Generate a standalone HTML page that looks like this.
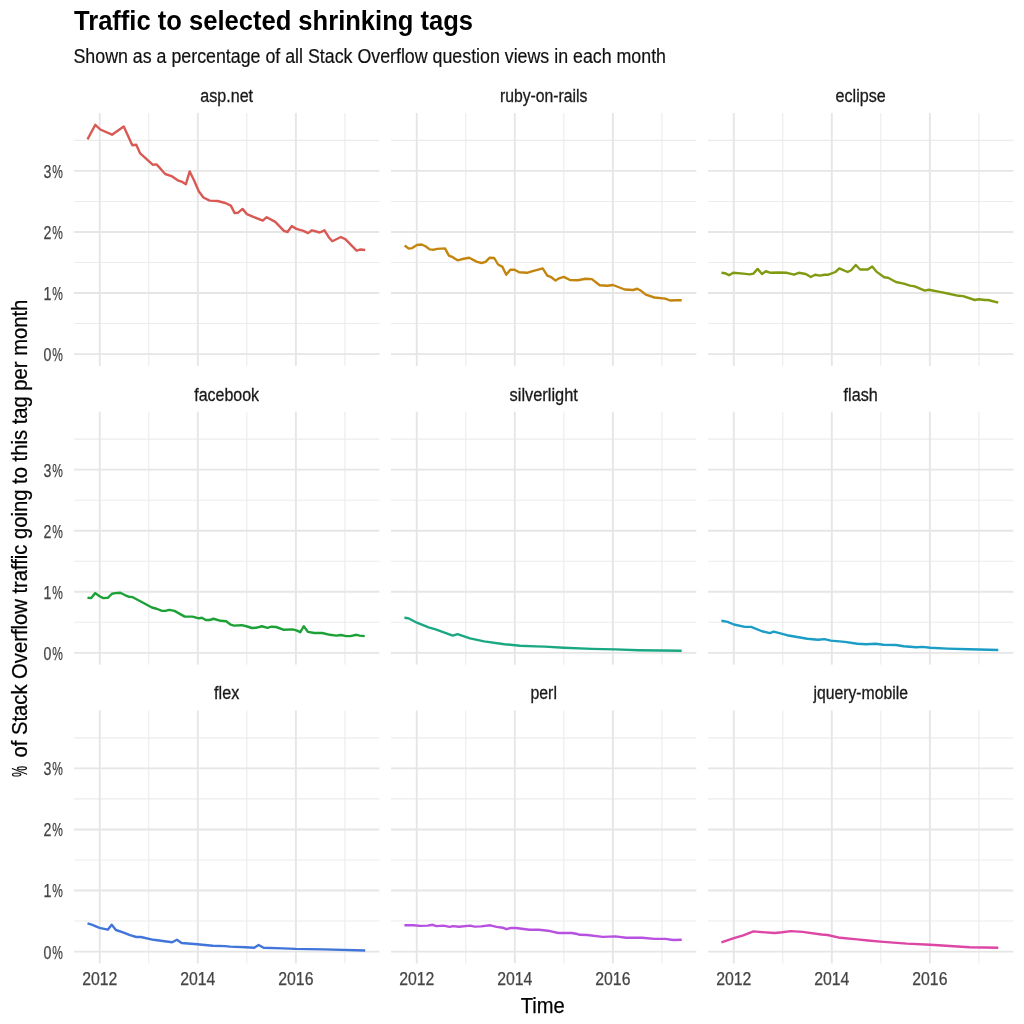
<!DOCTYPE html><html><head><meta charset="utf-8"><style>html,body{margin:0;padding:0;background:#fff;}svg{display:block;will-change:transform;}text{font-family:"Liberation Sans",sans-serif;}.tk{fill:#444;stroke:#444;stroke-width:0.25px;}.st{fill:#1a1a1a;stroke:#1a1a1a;stroke-width:0.3px;}</style></head><body>
<svg width="1024" height="1024" viewBox="0 0 1024 1024">
<rect width="1024" height="1024" fill="#fff"/>
<g><line x1="74.00" x2="379.40" y1="323.56" y2="323.56" stroke="#ececec" stroke-width="1.1"/><line x1="74.00" x2="379.40" y1="262.50" y2="262.50" stroke="#ececec" stroke-width="1.1"/><line x1="74.00" x2="379.40" y1="201.43" y2="201.43" stroke="#ececec" stroke-width="1.1"/><line x1="74.00" x2="379.40" y1="140.36" y2="140.36" stroke="#ececec" stroke-width="1.1"/><line x1="148.78" x2="148.78" y1="112.90" y2="365.90" stroke="#ececec" stroke-width="1.1"/><line x1="246.84" x2="246.84" y1="112.90" y2="365.90" stroke="#ececec" stroke-width="1.1"/><line x1="344.90" x2="344.90" y1="112.90" y2="365.90" stroke="#ececec" stroke-width="1.1"/><line x1="74.00" x2="379.40" y1="354.10" y2="354.10" stroke="#e6e6e6" stroke-width="1.9"/><line x1="74.00" x2="379.40" y1="293.03" y2="293.03" stroke="#e6e6e6" stroke-width="1.9"/><line x1="74.00" x2="379.40" y1="231.96" y2="231.96" stroke="#e6e6e6" stroke-width="1.9"/><line x1="74.00" x2="379.40" y1="170.89" y2="170.89" stroke="#e6e6e6" stroke-width="1.9"/><line x1="99.75" x2="99.75" y1="112.90" y2="365.90" stroke="#e6e6e6" stroke-width="1.9"/><line x1="197.81" x2="197.81" y1="112.90" y2="365.90" stroke="#e6e6e6" stroke-width="1.9"/><line x1="295.87" x2="295.87" y1="112.90" y2="365.90" stroke="#e6e6e6" stroke-width="1.9"/><line x1="391.00" x2="696.40" y1="323.56" y2="323.56" stroke="#ececec" stroke-width="1.1"/><line x1="391.00" x2="696.40" y1="262.50" y2="262.50" stroke="#ececec" stroke-width="1.1"/><line x1="391.00" x2="696.40" y1="201.43" y2="201.43" stroke="#ececec" stroke-width="1.1"/><line x1="391.00" x2="696.40" y1="140.36" y2="140.36" stroke="#ececec" stroke-width="1.1"/><line x1="465.78" x2="465.78" y1="112.90" y2="365.90" stroke="#ececec" stroke-width="1.1"/><line x1="563.84" x2="563.84" y1="112.90" y2="365.90" stroke="#ececec" stroke-width="1.1"/><line x1="661.90" x2="661.90" y1="112.90" y2="365.90" stroke="#ececec" stroke-width="1.1"/><line x1="391.00" x2="696.40" y1="354.10" y2="354.10" stroke="#e6e6e6" stroke-width="1.9"/><line x1="391.00" x2="696.40" y1="293.03" y2="293.03" stroke="#e6e6e6" stroke-width="1.9"/><line x1="391.00" x2="696.40" y1="231.96" y2="231.96" stroke="#e6e6e6" stroke-width="1.9"/><line x1="391.00" x2="696.40" y1="170.89" y2="170.89" stroke="#e6e6e6" stroke-width="1.9"/><line x1="416.75" x2="416.75" y1="112.90" y2="365.90" stroke="#e6e6e6" stroke-width="1.9"/><line x1="514.81" x2="514.81" y1="112.90" y2="365.90" stroke="#e6e6e6" stroke-width="1.9"/><line x1="612.87" x2="612.87" y1="112.90" y2="365.90" stroke="#e6e6e6" stroke-width="1.9"/><line x1="708.00" x2="1013.40" y1="323.56" y2="323.56" stroke="#ececec" stroke-width="1.1"/><line x1="708.00" x2="1013.40" y1="262.50" y2="262.50" stroke="#ececec" stroke-width="1.1"/><line x1="708.00" x2="1013.40" y1="201.43" y2="201.43" stroke="#ececec" stroke-width="1.1"/><line x1="708.00" x2="1013.40" y1="140.36" y2="140.36" stroke="#ececec" stroke-width="1.1"/><line x1="782.78" x2="782.78" y1="112.90" y2="365.90" stroke="#ececec" stroke-width="1.1"/><line x1="880.84" x2="880.84" y1="112.90" y2="365.90" stroke="#ececec" stroke-width="1.1"/><line x1="978.90" x2="978.90" y1="112.90" y2="365.90" stroke="#ececec" stroke-width="1.1"/><line x1="708.00" x2="1013.40" y1="354.10" y2="354.10" stroke="#e6e6e6" stroke-width="1.9"/><line x1="708.00" x2="1013.40" y1="293.03" y2="293.03" stroke="#e6e6e6" stroke-width="1.9"/><line x1="708.00" x2="1013.40" y1="231.96" y2="231.96" stroke="#e6e6e6" stroke-width="1.9"/><line x1="708.00" x2="1013.40" y1="170.89" y2="170.89" stroke="#e6e6e6" stroke-width="1.9"/><line x1="733.75" x2="733.75" y1="112.90" y2="365.90" stroke="#e6e6e6" stroke-width="1.9"/><line x1="831.81" x2="831.81" y1="112.90" y2="365.90" stroke="#e6e6e6" stroke-width="1.9"/><line x1="929.87" x2="929.87" y1="112.90" y2="365.90" stroke="#e6e6e6" stroke-width="1.9"/><line x1="74.00" x2="379.40" y1="622.32" y2="622.32" stroke="#ececec" stroke-width="1.1"/><line x1="74.00" x2="379.40" y1="561.25" y2="561.25" stroke="#ececec" stroke-width="1.1"/><line x1="74.00" x2="379.40" y1="500.18" y2="500.18" stroke="#ececec" stroke-width="1.1"/><line x1="74.00" x2="379.40" y1="439.11" y2="439.11" stroke="#ececec" stroke-width="1.1"/><line x1="148.78" x2="148.78" y1="411.65" y2="664.65" stroke="#ececec" stroke-width="1.1"/><line x1="246.84" x2="246.84" y1="411.65" y2="664.65" stroke="#ececec" stroke-width="1.1"/><line x1="344.90" x2="344.90" y1="411.65" y2="664.65" stroke="#ececec" stroke-width="1.1"/><line x1="74.00" x2="379.40" y1="652.85" y2="652.85" stroke="#e6e6e6" stroke-width="1.9"/><line x1="74.00" x2="379.40" y1="591.78" y2="591.78" stroke="#e6e6e6" stroke-width="1.9"/><line x1="74.00" x2="379.40" y1="530.71" y2="530.71" stroke="#e6e6e6" stroke-width="1.9"/><line x1="74.00" x2="379.40" y1="469.64" y2="469.64" stroke="#e6e6e6" stroke-width="1.9"/><line x1="99.75" x2="99.75" y1="411.65" y2="664.65" stroke="#e6e6e6" stroke-width="1.9"/><line x1="197.81" x2="197.81" y1="411.65" y2="664.65" stroke="#e6e6e6" stroke-width="1.9"/><line x1="295.87" x2="295.87" y1="411.65" y2="664.65" stroke="#e6e6e6" stroke-width="1.9"/><line x1="391.00" x2="696.40" y1="622.32" y2="622.32" stroke="#ececec" stroke-width="1.1"/><line x1="391.00" x2="696.40" y1="561.25" y2="561.25" stroke="#ececec" stroke-width="1.1"/><line x1="391.00" x2="696.40" y1="500.18" y2="500.18" stroke="#ececec" stroke-width="1.1"/><line x1="391.00" x2="696.40" y1="439.11" y2="439.11" stroke="#ececec" stroke-width="1.1"/><line x1="465.78" x2="465.78" y1="411.65" y2="664.65" stroke="#ececec" stroke-width="1.1"/><line x1="563.84" x2="563.84" y1="411.65" y2="664.65" stroke="#ececec" stroke-width="1.1"/><line x1="661.90" x2="661.90" y1="411.65" y2="664.65" stroke="#ececec" stroke-width="1.1"/><line x1="391.00" x2="696.40" y1="652.85" y2="652.85" stroke="#e6e6e6" stroke-width="1.9"/><line x1="391.00" x2="696.40" y1="591.78" y2="591.78" stroke="#e6e6e6" stroke-width="1.9"/><line x1="391.00" x2="696.40" y1="530.71" y2="530.71" stroke="#e6e6e6" stroke-width="1.9"/><line x1="391.00" x2="696.40" y1="469.64" y2="469.64" stroke="#e6e6e6" stroke-width="1.9"/><line x1="416.75" x2="416.75" y1="411.65" y2="664.65" stroke="#e6e6e6" stroke-width="1.9"/><line x1="514.81" x2="514.81" y1="411.65" y2="664.65" stroke="#e6e6e6" stroke-width="1.9"/><line x1="612.87" x2="612.87" y1="411.65" y2="664.65" stroke="#e6e6e6" stroke-width="1.9"/><line x1="708.00" x2="1013.40" y1="622.32" y2="622.32" stroke="#ececec" stroke-width="1.1"/><line x1="708.00" x2="1013.40" y1="561.25" y2="561.25" stroke="#ececec" stroke-width="1.1"/><line x1="708.00" x2="1013.40" y1="500.18" y2="500.18" stroke="#ececec" stroke-width="1.1"/><line x1="708.00" x2="1013.40" y1="439.11" y2="439.11" stroke="#ececec" stroke-width="1.1"/><line x1="782.78" x2="782.78" y1="411.65" y2="664.65" stroke="#ececec" stroke-width="1.1"/><line x1="880.84" x2="880.84" y1="411.65" y2="664.65" stroke="#ececec" stroke-width="1.1"/><line x1="978.90" x2="978.90" y1="411.65" y2="664.65" stroke="#ececec" stroke-width="1.1"/><line x1="708.00" x2="1013.40" y1="652.85" y2="652.85" stroke="#e6e6e6" stroke-width="1.9"/><line x1="708.00" x2="1013.40" y1="591.78" y2="591.78" stroke="#e6e6e6" stroke-width="1.9"/><line x1="708.00" x2="1013.40" y1="530.71" y2="530.71" stroke="#e6e6e6" stroke-width="1.9"/><line x1="708.00" x2="1013.40" y1="469.64" y2="469.64" stroke="#e6e6e6" stroke-width="1.9"/><line x1="733.75" x2="733.75" y1="411.65" y2="664.65" stroke="#e6e6e6" stroke-width="1.9"/><line x1="831.81" x2="831.81" y1="411.65" y2="664.65" stroke="#e6e6e6" stroke-width="1.9"/><line x1="929.87" x2="929.87" y1="411.65" y2="664.65" stroke="#e6e6e6" stroke-width="1.9"/><line x1="74.00" x2="379.40" y1="921.07" y2="921.07" stroke="#ececec" stroke-width="1.1"/><line x1="74.00" x2="379.40" y1="860.00" y2="860.00" stroke="#ececec" stroke-width="1.1"/><line x1="74.00" x2="379.40" y1="798.92" y2="798.92" stroke="#ececec" stroke-width="1.1"/><line x1="74.00" x2="379.40" y1="737.86" y2="737.86" stroke="#ececec" stroke-width="1.1"/><line x1="148.78" x2="148.78" y1="710.40" y2="963.40" stroke="#ececec" stroke-width="1.1"/><line x1="246.84" x2="246.84" y1="710.40" y2="963.40" stroke="#ececec" stroke-width="1.1"/><line x1="344.90" x2="344.90" y1="710.40" y2="963.40" stroke="#ececec" stroke-width="1.1"/><line x1="74.00" x2="379.40" y1="951.60" y2="951.60" stroke="#e6e6e6" stroke-width="1.9"/><line x1="74.00" x2="379.40" y1="890.53" y2="890.53" stroke="#e6e6e6" stroke-width="1.9"/><line x1="74.00" x2="379.40" y1="829.46" y2="829.46" stroke="#e6e6e6" stroke-width="1.9"/><line x1="74.00" x2="379.40" y1="768.39" y2="768.39" stroke="#e6e6e6" stroke-width="1.9"/><line x1="99.75" x2="99.75" y1="710.40" y2="963.40" stroke="#e6e6e6" stroke-width="1.9"/><line x1="197.81" x2="197.81" y1="710.40" y2="963.40" stroke="#e6e6e6" stroke-width="1.9"/><line x1="295.87" x2="295.87" y1="710.40" y2="963.40" stroke="#e6e6e6" stroke-width="1.9"/><line x1="391.00" x2="696.40" y1="921.07" y2="921.07" stroke="#ececec" stroke-width="1.1"/><line x1="391.00" x2="696.40" y1="860.00" y2="860.00" stroke="#ececec" stroke-width="1.1"/><line x1="391.00" x2="696.40" y1="798.92" y2="798.92" stroke="#ececec" stroke-width="1.1"/><line x1="391.00" x2="696.40" y1="737.86" y2="737.86" stroke="#ececec" stroke-width="1.1"/><line x1="465.78" x2="465.78" y1="710.40" y2="963.40" stroke="#ececec" stroke-width="1.1"/><line x1="563.84" x2="563.84" y1="710.40" y2="963.40" stroke="#ececec" stroke-width="1.1"/><line x1="661.90" x2="661.90" y1="710.40" y2="963.40" stroke="#ececec" stroke-width="1.1"/><line x1="391.00" x2="696.40" y1="951.60" y2="951.60" stroke="#e6e6e6" stroke-width="1.9"/><line x1="391.00" x2="696.40" y1="890.53" y2="890.53" stroke="#e6e6e6" stroke-width="1.9"/><line x1="391.00" x2="696.40" y1="829.46" y2="829.46" stroke="#e6e6e6" stroke-width="1.9"/><line x1="391.00" x2="696.40" y1="768.39" y2="768.39" stroke="#e6e6e6" stroke-width="1.9"/><line x1="416.75" x2="416.75" y1="710.40" y2="963.40" stroke="#e6e6e6" stroke-width="1.9"/><line x1="514.81" x2="514.81" y1="710.40" y2="963.40" stroke="#e6e6e6" stroke-width="1.9"/><line x1="612.87" x2="612.87" y1="710.40" y2="963.40" stroke="#e6e6e6" stroke-width="1.9"/><line x1="708.00" x2="1013.40" y1="921.07" y2="921.07" stroke="#ececec" stroke-width="1.1"/><line x1="708.00" x2="1013.40" y1="860.00" y2="860.00" stroke="#ececec" stroke-width="1.1"/><line x1="708.00" x2="1013.40" y1="798.92" y2="798.92" stroke="#ececec" stroke-width="1.1"/><line x1="708.00" x2="1013.40" y1="737.86" y2="737.86" stroke="#ececec" stroke-width="1.1"/><line x1="782.78" x2="782.78" y1="710.40" y2="963.40" stroke="#ececec" stroke-width="1.1"/><line x1="880.84" x2="880.84" y1="710.40" y2="963.40" stroke="#ececec" stroke-width="1.1"/><line x1="978.90" x2="978.90" y1="710.40" y2="963.40" stroke="#ececec" stroke-width="1.1"/><line x1="708.00" x2="1013.40" y1="951.60" y2="951.60" stroke="#e6e6e6" stroke-width="1.9"/><line x1="708.00" x2="1013.40" y1="890.53" y2="890.53" stroke="#e6e6e6" stroke-width="1.9"/><line x1="708.00" x2="1013.40" y1="829.46" y2="829.46" stroke="#e6e6e6" stroke-width="1.9"/><line x1="708.00" x2="1013.40" y1="768.39" y2="768.39" stroke="#e6e6e6" stroke-width="1.9"/><line x1="733.75" x2="733.75" y1="710.40" y2="963.40" stroke="#e6e6e6" stroke-width="1.9"/><line x1="831.81" x2="831.81" y1="710.40" y2="963.40" stroke="#e6e6e6" stroke-width="1.9"/><line x1="929.87" x2="929.87" y1="710.40" y2="963.40" stroke="#e6e6e6" stroke-width="1.9"/></g>
<polyline points="87.50,139.40 95.30,124.80 100.30,129.50 112.00,134.70 123.75,126.40 132.30,145.20 136.25,144.70 140.20,153.40 152.70,164.70 156.60,164.40 165.20,174.00 172.20,176.40 177.70,180.30 182.30,181.90 185.90,184.20 189.70,171.40 194.00,180.30 198.75,191.25 203.40,197.50 209.70,200.60 217.50,201.00 225.30,203.00 230.80,205.60 234.70,213.10 237.80,212.80 242.50,208.90 246.90,214.10 253.40,216.90 262.80,220.60 266.70,217.20 275.30,221.90 283.90,230.80 287.50,232.00 291.70,226.10 296.40,228.90 303.40,230.80 308.10,233.10 312.00,230.30 319.80,232.50 324.50,230.30 329.20,237.80 332.30,241.25 340.90,237.00 345.60,239.40 356.60,250.60 360.50,249.50 365.20,250.00" fill="none" stroke="#d95a55" stroke-width="2.4" stroke-linejoin="round" stroke-linecap="butt"/>
<polyline points="404.70,245.50 408.75,248.60 412.20,248.10 416.90,245.00 421.60,244.50 425.50,246.25 429.70,249.40 434.10,249.70 437.20,248.90 445.00,248.40 448.90,255.60 452.80,257.20 457.50,260.30 463.75,258.75 469.20,257.80 477.00,261.90 481.70,263.00 485.60,261.90 489.50,257.80 494.20,258.00 498.10,264.50 502.50,266.90 506.25,274.70 510.30,269.70 514.50,269.70 519.20,272.30 527.00,272.80 530.90,271.60 542.70,268.40 547.30,275.60 551.25,277.20 555.60,280.60 559.10,278.30 563.75,276.90 570.00,280.00 577.80,280.30 585.60,278.75 591.90,279.10 599.70,285.30 607.50,285.80 613.00,285.00 624.70,289.50 633.30,290.00 637.20,288.75 641.10,290.80 645.80,294.70 654.40,297.50 665.30,298.60 670.00,300.50 676.25,300.20 681.70,300.20" fill="none" stroke="#c4850f" stroke-width="2.4" stroke-linejoin="round" stroke-linecap="butt"/>
<polyline points="721.40,272.80 725.30,273.30 729.20,275.20 733.10,272.80 743.25,273.60 749.50,274.40 753.40,273.60 757.60,268.90 762.00,274.00 765.90,271.25 770.60,272.80 777.60,272.50 787.00,272.80 794.00,274.70 798.70,272.80 805.75,274.00 810.75,277.00 815.10,274.70 819.80,275.60 824.50,274.70 828.40,274.70 835.40,272.00 839.30,268.40 847.60,272.00 851.10,270.20 855.75,265.00 860.10,269.50 867.80,269.50 872.20,266.40 876.40,271.60 884.20,277.30 888.10,277.80 895.90,282.00 903.75,283.60 910.00,285.60 914.70,286.40 924.80,290.60 928.75,289.80 939.70,291.90 949.00,293.75 958.40,295.80 963.10,296.10 974.80,300.00 978.75,299.20 985.00,300.00 988.10,300.00 998.30,302.70" fill="none" stroke="#809a12" stroke-width="2.4" stroke-linejoin="round" stroke-linecap="butt"/>
<polyline points="87.50,597.70 91.25,598.10 95.30,593.10 99.50,596.25 103.40,598.10 107.80,597.80 112.00,593.75 115.20,593.10 120.30,592.80 125.30,595.30 129.20,596.90 132.30,597.00 141.70,602.00 151.90,607.50 156.60,608.75 162.00,610.90 165.20,610.90 169.40,609.80 174.50,610.90 184.70,616.60 192.50,616.60 198.75,618.40 201.90,617.80 205.80,620.00 209.70,620.00 213.60,618.75 220.60,620.80 226.10,621.25 230.80,624.70 233.90,625.60 241.70,625.20 246.40,626.25 251.90,628.00 255.80,627.80 262.00,626.25 267.50,627.80 271.40,626.70 276.10,627.00 283.90,629.80 292.50,629.40 296.40,630.30 300.30,632.20 303.75,626.25 308.10,631.90 314.40,633.00 322.20,633.00 330.00,634.80 336.25,635.60 340.90,635.00 346.40,636.10 350.30,636.10 356.60,634.80 359.70,635.60 364.70,636.10" fill="none" stroke="#1ba136" stroke-width="2.4" stroke-linejoin="round" stroke-linecap="butt"/>
<polyline points="404.40,617.70 408.30,618.30 416.90,622.70 428.60,627.30 435.60,629.40 452.80,635.60 457.50,634.10 470.00,638.30 484.10,641.40 504.40,644.20 520.00,645.80 535.60,646.40 545.00,646.60 563.75,647.70 591.90,648.90 615.30,649.40 638.75,650.20 681.70,650.80" fill="none" stroke="#1aa883" stroke-width="2.4" stroke-linejoin="round" stroke-linecap="butt"/>
<polyline points="721.40,620.80 727.60,621.90 733.90,624.50 744.80,626.90 751.10,626.90 762.00,631.25 769.80,633.10 773.70,631.70 787.00,635.20 807.30,638.75 818.25,639.80 824.50,639.10 830.75,640.60 844.80,641.90 857.30,643.75 866.25,644.20 875.60,643.75 883.40,644.70 895.90,645.00 903.75,646.25 916.25,647.30 922.50,646.90 930.30,647.80 947.50,648.60 969.40,649.20 998.30,650.00" fill="none" stroke="#1b9dc6" stroke-width="2.4" stroke-linejoin="round" stroke-linecap="butt"/>
<polyline points="87.50,923.40 91.70,924.70 99.50,927.80 107.80,929.70 111.70,924.70 115.90,930.00 123.00,932.30 130.00,935.20 136.25,937.00 140.90,937.00 153.40,939.80 172.20,942.20 176.90,939.80 181.60,943.00 197.20,944.20 212.80,945.80 225.30,946.10 230.00,946.60 245.60,947.30 254.20,947.80 258.60,945.00 263.60,947.80 283.10,948.40 295.60,948.90 323.75,949.40 365.20,950.50" fill="none" stroke="#4275da" stroke-width="2.4" stroke-linejoin="round" stroke-linecap="butt"/>
<polyline points="404.40,925.20 413.75,925.20 420.00,925.90 427.80,925.60 432.50,924.80 436.40,926.10 443.40,925.60 449.70,926.90 452.80,926.10 459.10,926.70 470.00,925.60 474.70,926.60 480.90,926.40 490.30,925.30 496.60,926.90 502.80,927.70 506.25,929.20 510.60,928.00 516.10,928.00 529.40,929.80 538.75,929.80 548.10,930.80 551.25,931.40 558.30,933.00 571.60,933.00 576.25,933.75 580.20,934.80 587.20,935.00 602.80,936.90 615.30,936.40 626.25,937.70 641.90,937.70 654.40,938.90 665.30,938.90 673.10,940.00 681.70,939.70" fill="none" stroke="#b850e0" stroke-width="2.4" stroke-linejoin="round" stroke-linecap="butt"/>
<polyline points="721.40,942.30 733.90,938.10 743.25,935.30 753.40,931.40 758.90,931.90 774.50,933.00 782.30,932.30 790.90,931.10 802.60,931.90 821.40,934.50 827.60,935.00 840.10,937.80 857.30,939.40 867.80,940.50 883.40,941.90 906.90,943.60 930.30,944.70 953.75,946.25 969.40,947.30 998.30,947.80" fill="none" stroke="#dd46a4" stroke-width="2.4" stroke-linejoin="round" stroke-linecap="butt"/>
<text x="226.70" y="101.80" font-size="17.6" class="st" text-anchor="middle" textLength="52.7" lengthAdjust="spacingAndGlyphs">asp.net</text>
<text x="543.70" y="101.80" font-size="17.6" class="st" text-anchor="middle" textLength="87.6" lengthAdjust="spacingAndGlyphs">ruby-on-rails</text>
<text x="860.70" y="101.80" font-size="17.6" class="st" text-anchor="middle" textLength="50.2" lengthAdjust="spacingAndGlyphs">eclipse</text>
<text x="226.70" y="400.55" font-size="17.6" class="st" text-anchor="middle" textLength="64.8" lengthAdjust="spacingAndGlyphs">facebook</text>
<text x="543.70" y="400.55" font-size="17.6" class="st" text-anchor="middle" textLength="68.3" lengthAdjust="spacingAndGlyphs">silverlight</text>
<text x="860.70" y="400.55" font-size="17.6" class="st" text-anchor="middle" textLength="34.2" lengthAdjust="spacingAndGlyphs">flash</text>
<text x="226.70" y="699.30" font-size="17.6" class="st" text-anchor="middle" textLength="25.2" lengthAdjust="spacingAndGlyphs">flex</text>
<text x="543.70" y="699.30" font-size="17.6" class="st" text-anchor="middle" textLength="26.4" lengthAdjust="spacingAndGlyphs">perl</text>
<text x="860.70" y="699.30" font-size="17.6" class="st" text-anchor="middle" textLength="94.6" lengthAdjust="spacingAndGlyphs">jquery-mobile</text>
<text x="43.6" y="361.00" font-size="17.6" class="tk" textLength="7.9" lengthAdjust="spacingAndGlyphs">0</text>
<text x="52.3" y="361.00" font-size="17.6" class="tk" textLength="10.6" lengthAdjust="spacingAndGlyphs">%</text>
<text x="43.6" y="299.93" font-size="17.6" class="tk" textLength="7.9" lengthAdjust="spacingAndGlyphs">1</text>
<text x="52.3" y="299.93" font-size="17.6" class="tk" textLength="10.6" lengthAdjust="spacingAndGlyphs">%</text>
<text x="43.6" y="238.86" font-size="17.6" class="tk" textLength="7.9" lengthAdjust="spacingAndGlyphs">2</text>
<text x="52.3" y="238.86" font-size="17.6" class="tk" textLength="10.6" lengthAdjust="spacingAndGlyphs">%</text>
<text x="43.6" y="177.79" font-size="17.6" class="tk" textLength="7.9" lengthAdjust="spacingAndGlyphs">3</text>
<text x="52.3" y="177.79" font-size="17.6" class="tk" textLength="10.6" lengthAdjust="spacingAndGlyphs">%</text>
<text x="43.6" y="659.75" font-size="17.6" class="tk" textLength="7.9" lengthAdjust="spacingAndGlyphs">0</text>
<text x="52.3" y="659.75" font-size="17.6" class="tk" textLength="10.6" lengthAdjust="spacingAndGlyphs">%</text>
<text x="43.6" y="598.68" font-size="17.6" class="tk" textLength="7.9" lengthAdjust="spacingAndGlyphs">1</text>
<text x="52.3" y="598.68" font-size="17.6" class="tk" textLength="10.6" lengthAdjust="spacingAndGlyphs">%</text>
<text x="43.6" y="537.61" font-size="17.6" class="tk" textLength="7.9" lengthAdjust="spacingAndGlyphs">2</text>
<text x="52.3" y="537.61" font-size="17.6" class="tk" textLength="10.6" lengthAdjust="spacingAndGlyphs">%</text>
<text x="43.6" y="476.54" font-size="17.6" class="tk" textLength="7.9" lengthAdjust="spacingAndGlyphs">3</text>
<text x="52.3" y="476.54" font-size="17.6" class="tk" textLength="10.6" lengthAdjust="spacingAndGlyphs">%</text>
<text x="43.6" y="958.50" font-size="17.6" class="tk" textLength="7.9" lengthAdjust="spacingAndGlyphs">0</text>
<text x="52.3" y="958.50" font-size="17.6" class="tk" textLength="10.6" lengthAdjust="spacingAndGlyphs">%</text>
<text x="43.6" y="897.43" font-size="17.6" class="tk" textLength="7.9" lengthAdjust="spacingAndGlyphs">1</text>
<text x="52.3" y="897.43" font-size="17.6" class="tk" textLength="10.6" lengthAdjust="spacingAndGlyphs">%</text>
<text x="43.6" y="836.36" font-size="17.6" class="tk" textLength="7.9" lengthAdjust="spacingAndGlyphs">2</text>
<text x="52.3" y="836.36" font-size="17.6" class="tk" textLength="10.6" lengthAdjust="spacingAndGlyphs">%</text>
<text x="43.6" y="775.29" font-size="17.6" class="tk" textLength="7.9" lengthAdjust="spacingAndGlyphs">3</text>
<text x="52.3" y="775.29" font-size="17.6" class="tk" textLength="10.6" lengthAdjust="spacingAndGlyphs">%</text>
<text x="99.75" y="985.3" font-size="17.6" class="tk" text-anchor="middle" textLength="35.2" lengthAdjust="spacingAndGlyphs">2012</text>
<text x="197.81" y="985.3" font-size="17.6" class="tk" text-anchor="middle" textLength="35.2" lengthAdjust="spacingAndGlyphs">2014</text>
<text x="295.87" y="985.3" font-size="17.6" class="tk" text-anchor="middle" textLength="35.2" lengthAdjust="spacingAndGlyphs">2016</text>
<text x="416.75" y="985.3" font-size="17.6" class="tk" text-anchor="middle" textLength="35.2" lengthAdjust="spacingAndGlyphs">2012</text>
<text x="514.81" y="985.3" font-size="17.6" class="tk" text-anchor="middle" textLength="35.2" lengthAdjust="spacingAndGlyphs">2014</text>
<text x="612.87" y="985.3" font-size="17.6" class="tk" text-anchor="middle" textLength="35.2" lengthAdjust="spacingAndGlyphs">2016</text>
<text x="733.75" y="985.3" font-size="17.6" class="tk" text-anchor="middle" textLength="35.2" lengthAdjust="spacingAndGlyphs">2012</text>
<text x="831.81" y="985.3" font-size="17.6" class="tk" text-anchor="middle" textLength="35.2" lengthAdjust="spacingAndGlyphs">2014</text>
<text x="929.87" y="985.3" font-size="17.6" class="tk" text-anchor="middle" textLength="35.2" lengthAdjust="spacingAndGlyphs">2016</text>
<text x="74" y="30.2" font-size="27.3" font-weight="bold" fill="#000" textLength="399" lengthAdjust="spacingAndGlyphs">Traffic to selected shrinking tags</text>
<text x="73.5" y="62.8" font-size="20" fill="#111" stroke="#111" stroke-width="0.2" textLength="592.5" lengthAdjust="spacingAndGlyphs">Shown as a percentage of all Stack Overflow question views in each month</text>
<text x="542.7" y="1012.8" font-size="22" fill="#000" stroke="#000" stroke-width="0.25" text-anchor="middle" textLength="44" lengthAdjust="spacingAndGlyphs">Time</text>
<g transform="translate(27,538.3) rotate(-90)" fill="#000" stroke="#000" stroke-width="0.25" font-size="22"><text x="-238.6" y="0" textLength="11.2" lengthAdjust="spacingAndGlyphs">%</text><text x="-219.2" y="0" textLength="457.8" lengthAdjust="spacingAndGlyphs">of Stack Overflow traffic going to this tag per month</text></g>
</svg></body></html>
